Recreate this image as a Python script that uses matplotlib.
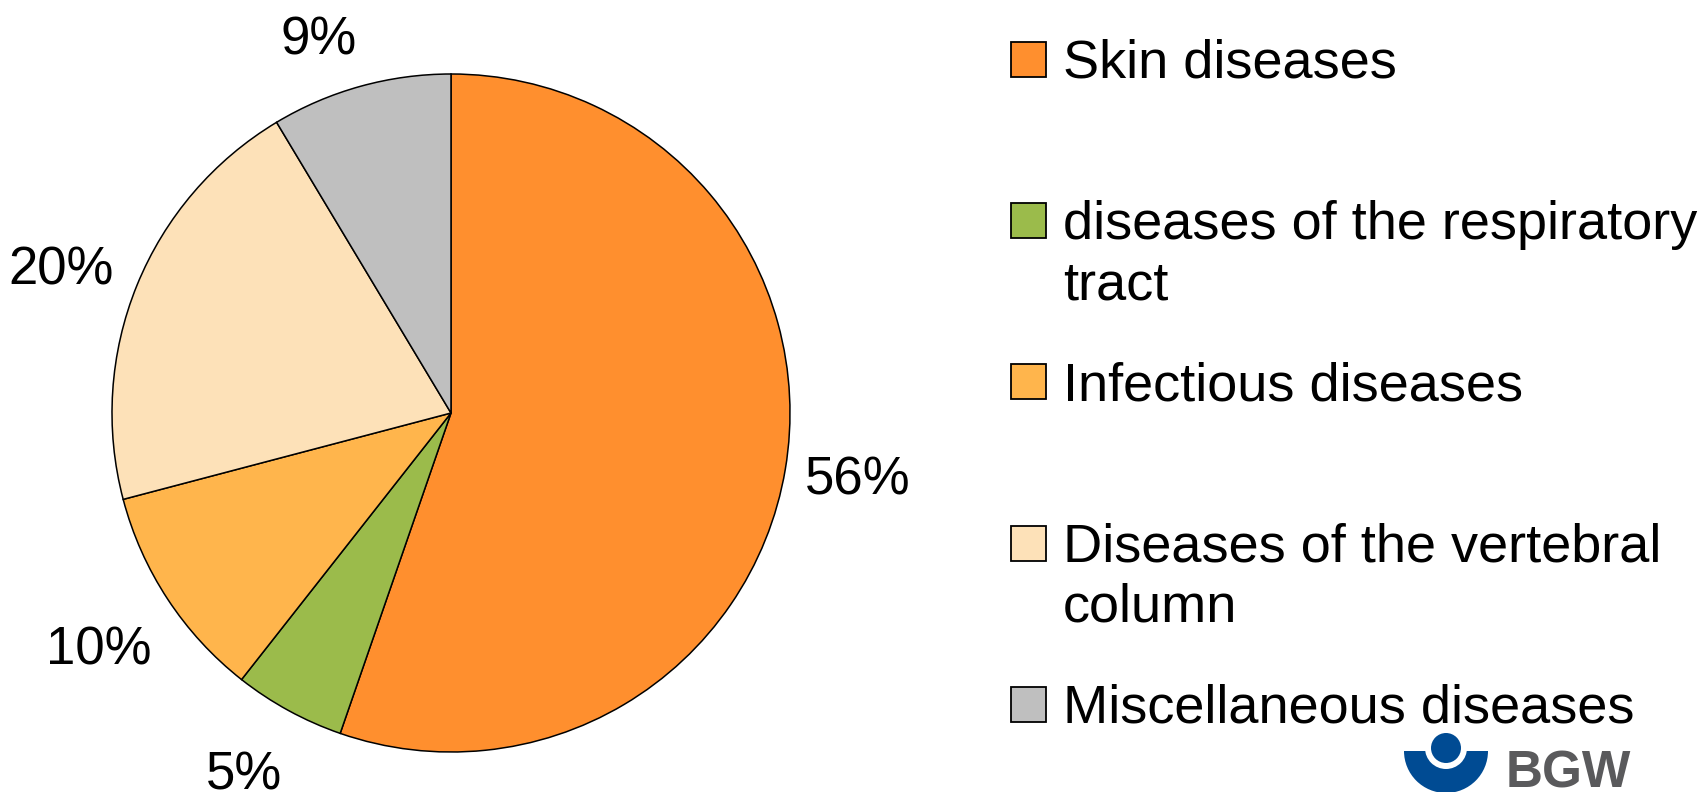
import matplotlib
matplotlib.use('Agg')
import matplotlib.pyplot as plt
from matplotlib.patches import Rectangle, Wedge, Circle

plt.rcParams['font.family'] = ['Liberation Sans', 'DejaVu Sans']

# Data
categories = ['Skin diseases',
              'diseases of the respiratory\ntract',
              'Infectious diseases',
              'Diseases of the vertebral\ncolumn',
              'Miscellaneous diseases']
shares = [55.3, 5.3, 10.3, 20.5, 8.6]
share_labels = ['56%', '5%', '10%', '20%', '9%']
colors = ['#FF8F2E', '#9BBB4B', '#FFB54C', '#FDE1B8', '#BFBFBF']

# where the percentage labels sit (pie radius = 1)
label_pos = [(1.20, -0.20), (-0.61, -1.07), (-1.04, -0.70),
             (-1.15, 0.42), (-0.39, 1.10)]

fig = plt.figure(figsize=(17.05, 7.92), dpi=100)

# Pie
ax = fig.add_axes([112 / 1705, 40 / 792, 678 / 1705, 678 / 792])
wedges, texts = ax.pie(shares, colors=colors, labels=share_labels,
                       startangle=90, counterclock=False, labeldistance=1.2,
                       wedgeprops=dict(edgecolor='black', linewidth=1.1),
                       textprops=dict(fontsize=38, color='black'))
for t, pos in zip(texts, label_pos):
    t.set_position(pos)
    t.set_ha('center')
    t.set_va('center')
ax.set_xlim(-1, 1)
ax.set_ylim(-1, 1)
ax.set_aspect('equal')

# Overlay in pixel coordinates for legend and logo
ov = fig.add_axes([0, 0, 1, 1], facecolor='none')
ov.set_xlim(0, 1705)
ov.set_ylim(792, 0)
ov.axis('off')

y0, dy = 59, 161.2
for i, (cat, col) in enumerate(zip(categories, colors)):
    yc = y0 + i * dy
    ov.add_patch(Rectangle((1011, yc - 17), 35, 35, facecolor=col,
                           edgecolor='black', linewidth=1.3))
    for k, line in enumerate(cat.split('\n')):
        ov.text(1063, yc + 19 + k * 60, line, fontsize=39, ha='left',
                va='baseline')

# BGW logo
blue = '#004B93'
ov.add_patch(Wedge((1446, 751), 42, 0, 180, facecolor=blue, edgecolor='none'))
ov.add_patch(Circle((1446, 748), 21, facecolor='white', edgecolor='none'))
ov.add_patch(Circle((1446, 748), 15, facecolor=blue, edgecolor='none'))
ov.text(1506, 750, 'BGW', fontsize=37, fontweight='bold', color='#5A5A5C',
        ha='left', va='top')

fig.savefig('out.png', dpi=100)
